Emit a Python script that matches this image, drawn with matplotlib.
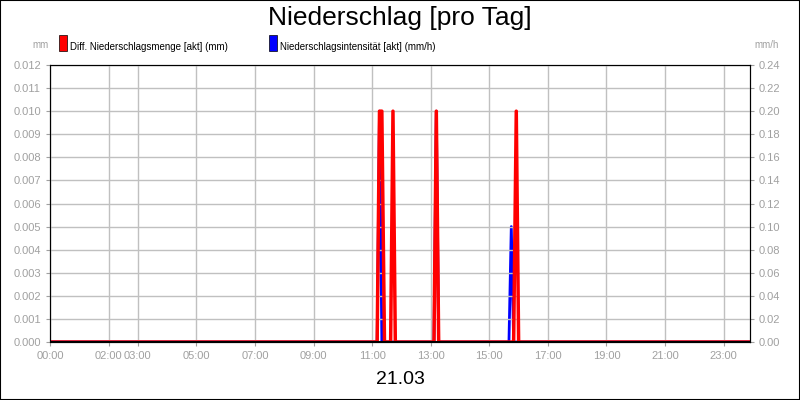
import matplotlib
matplotlib.use("Agg")
import matplotlib.pyplot as plt
from matplotlib.patches import Rectangle

plt.rcParams['font.family'] = ['Liberation Sans', 'DejaVu Sans']

# data (hours of day)
red_t = [0, 11.17, 11.25, 11.33, 11.42, 11.63, 11.71, 11.79, 13.11, 13.19, 13.27, 15.83, 15.92, 16.0, 24]
red_v = [0, 0.0, 0.010, 0.010, 0.0, 0.0, 0.010, 0.0, 0.0, 0.010, 0.0, 0.0, 0.010, 0.0, 0]
blue_t = [0, 11.17, 11.25, 11.33, 13.11, 13.19, 13.27, 15.67, 15.75, 15.83, 24]
blue_v = [0, 0.0, 0.20, 0.0, 0.0, 0.20, 0.0, 0.0, 0.10, 0.0, 0]
tick_h = [0, 2, 3, 5, 7, 9, 11, 13, 15, 17, 19, 21, 23]
tick_lbl = ["00:00", "02:00", "03:00", "05:00", "07:00", "09:00", "11:00", "13:00",
            "15:00", "17:00", "19:00", "21:00", "23:00"]
left_ticks = [i * 0.001 for i in range(13)]
right_ticks = [i * 0.02 for i in range(13)]

fig = plt.figure(figsize=(8, 4), dpi=100)
fig.patches.append(Rectangle((0, 0), 1, 1, transform=fig.transFigure, fill=False,
                             edgecolor="black", linewidth=1.5))
ax = fig.add_axes([50/800, 58/400, 700/800, 277/400])
ax2 = ax.twinx()
ax.set_xlim(0, 23.9)
ax.set_ylim(0, 0.012)
ax2.set_ylim(0, 0.24)
ax.set_xticks(tick_h)
ax.set_xticklabels(tick_lbl)
ax.set_yticks(left_ticks)
ax.set_yticklabels([f"{v:.3f}" for v in left_ticks])
ax2.set_yticks(right_ticks)
ax2.set_yticklabels([f"{v:.2f}" for v in right_ticks])
ax.grid(True, color="#c0c0c0", linewidth=1)
for a in (ax, ax2):
    a.tick_params(labelsize=8, labelcolor="#a0a0a0", length=3, color="#a0a0a0")
ax2.plot(blue_t, blue_v, color="blue", linewidth=2)
ax2.set_zorder(ax.get_zorder() - 1)
ax.patch.set_visible(False)
ax.plot(red_t, red_v, color="red", linewidth=2.5)
ax.axhline(0, color="black", linewidth=1.5)

fig.text(0.5, 0.955, "Niederschlag [pro Tag]", ha="center", va="center", fontsize=19)
fig.text(0.5, 0.05, "21.03", ha="center", va="center", fontsize=14)
fig.text(32/800, 0.88, "mm", fontsize=7, color="#a0a0a0")
fig.text(754/800, 0.88, "mm/h", fontsize=7, color="#a0a0a0")
fig.patches.append(Rectangle((59/800, 0.872), 8/800, 16/400, transform=fig.transFigure,
                             facecolor="red", edgecolor="black", linewidth=0.5))
fig.text(70/800, 0.875, "Diff. Niederschlagsmenge [akt] (mm)", fontsize=7)
fig.patches.append(Rectangle((269/800, 0.872), 8/800, 16/400, transform=fig.transFigure,
                             facecolor="blue", edgecolor="black", linewidth=0.5))
fig.text(280/800, 0.875, "Niederschlagsintensität [akt] (mm/h)", fontsize=7)
fig.savefig("out.png", dpi=100)
